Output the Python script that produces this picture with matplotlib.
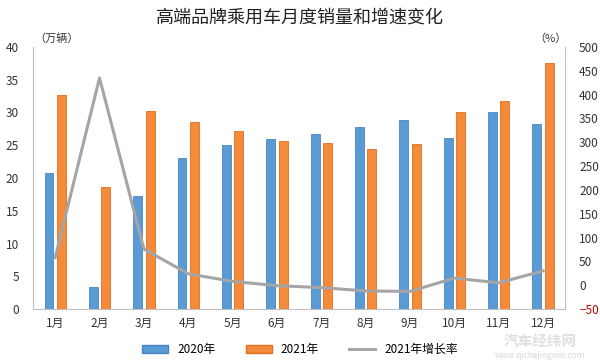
import numpy as np
import matplotlib.pyplot as plt
from matplotlib.lines import Line2D
from matplotlib.patches import Patch

plt.rcParams['font.family'] = ['Noto Sans CJK SC', 'DejaVu Sans']

months = ['1月', '2月', '3月', '4月', '5月', '6月', '7月', '8月', '9月', '10月', '11月', '12月']
sales_2020 = [20.7, 3.3, 17.3, 23.0, 25.0, 26.0, 26.7, 27.8, 28.9, 26.1, 30.0, 28.3]
sales_2021 = [32.7, 18.7, 30.3, 28.6, 27.1, 25.7, 25.3, 24.4, 25.2, 30.1, 31.7, 37.5]
growth_2021 = [58, 435, 76, 24, 8, -1, -5, -12, -13, 15, 5, 30]
left_ticks = [0, 5, 10, 15, 20, 25, 30, 35, 40]
right_ticks = [-50, 0, 50, 100, 150, 200, 250, 300, 350, 400, 450, 500]

blue = '#5B9BD5'
orange = '#F58A3A'
gray = '#A5A5A5'

fig = plt.figure(figsize=(6, 3.64), dpi=100)
ax = fig.add_axes([0.055, 0.151, 0.887, 0.72])
x = np.arange(len(months))
w = 0.2
ax.bar(x - 0.14, sales_2020, w, color=blue, edgecolor='#4A86C0', linewidth=0.6, zorder=2)
ax.bar(x + 0.14, sales_2021, w, color=orange, edgecolor='#E07020', linewidth=0.6, zorder=2)
ax.set_xlim(-0.5, 11.5)
ax.set_ylim(0, 40)
ax.set_yticks(left_ticks)
ax.set_xticks(x)
ax.set_xticklabels(months)
ax.tick_params(axis='both', length=0, labelsize=8.5, colors='#333333', pad=6)
ax.tick_params(axis='y', pad=10)
for s in ['top', 'right']:
    ax.spines[s].set_visible(False)
ax.spines['left'].set_color('#BFBFBF')
ax.spines['bottom'].set_color('#BFBFBF')

ax2 = ax.twinx()
ax2.plot(x, growth_2021, color=gray, linewidth=2.2, zorder=3)
ax2.set_ylim(-50, 500)
ax2.set_yticks(right_ticks)
ax2.tick_params(axis='y', length=0, labelsize=8.5, colors='#333333', pad=10)
ax2.get_yticklabels()[0].set_color('#C00000')
for s in ['top', 'left', 'bottom']:
    ax2.spines[s].set_visible(False)
ax2.spines['right'].set_color('#BFBFBF')

fig.text(0.5, 0.952, '高端品牌乘用车月度销量和增速变化', ha='center', va='center', fontsize=13, color='#222222')
fig.text(0.057, 0.893, '（万辆）', ha='left', va='center', fontsize=8, color='#333333')
fig.text(0.945, 0.893, '（%）', ha='right', va='center', fontsize=8, color='#333333')

handles = [Patch(facecolor=blue, edgecolor='#4A86C0'),
           Patch(facecolor=orange, edgecolor='#E07020'),
           Line2D([0], [0], color=gray, linewidth=2.2)]
fig.legend(handles, ['2020年', '2021年', '2021年增长率'], loc='center', bbox_to_anchor=(0.5, 0.04),
           ncol=3, frameon=False, fontsize=8.5, handlelength=2.2, handleheight=0.7, columnspacing=2.5)

# watermark
fig.text(0.9, 0.062, '汽车经纬网', ha='center', va='center', fontsize=10.5, color='#E0E0E0', fontweight='bold')
fig.text(0.9, 0.022, 'www.qichejingwei.com', ha='center', va='center', fontsize=6, color='#D8D8D8')

plt.savefig('out.png', dpi=100)
